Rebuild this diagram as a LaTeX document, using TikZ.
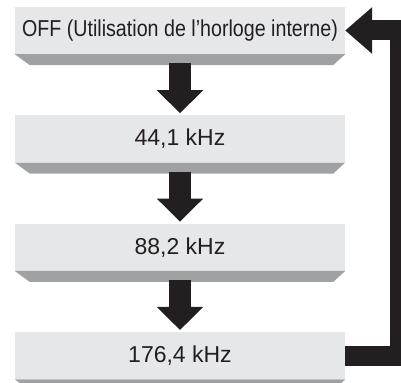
\documentclass[tikz,border=0pt]{standalone}
\usepackage{fontspec}
\setmainfont{Liberation Sans}
\usetikzlibrary{arrows.meta,positioning,calc}
\definecolor{facegray}{RGB}{230,231,232}
\definecolor{bevelgray}{RGB}{160,161,163}
\definecolor{inkblack}{RGB}{35,31,32}

\begin{document}
\begin{tikzpicture}[
  x=1bp, y=1bp,
  freqbox/.style={rectangle, fill=facegray, minimum width=330bp, minimum height=47bp, inner sep=0pt, text=inkblack, font=\fontsize{23bp}{25bp}\selectfont},
  downarrow/.style={draw=inkblack, line width=22bp, -{Triangle[width=45bp, length=23bp]}, shorten <=9bp, shorten >=2bp},
  backarrow/.style={draw=inkblack, line width=20bp, -{Triangle[width=45bp, length=27bp]}}
]
\clip (0,0) rectangle (401,383);

\node[freqbox] (off) at (180,352.5) {\scalebox{0.855}[1]{OFF (Utilisation de l’horloge interne)}};
\node[freqbox, below=61bp of off] (f441) {44,1 kHz};
\node[freqbox, below=61bp of f441] (f882) {88,2 kHz};
\node[freqbox, below=61bp of f882] (f1764) {176,4 kHz};

% bevelled lower edges
\foreach \b in {off,f441,f882,f1764}
  \fill[bevelgray] (\b.south west) -- (\b.south east) -- ++(-12,-11) -- ($(\b.south west)+(15,-11)$) -- cycle;

\draw[downarrow] (off) -- (f441);
\draw[downarrow] (f441) -- (f882);
\draw[downarrow] (f882) -- (f1764);

% back to the top
\draw[backarrow] (f1764.east) -- ++(55,0) |- (off.east);
\end{tikzpicture}
\end{document}
